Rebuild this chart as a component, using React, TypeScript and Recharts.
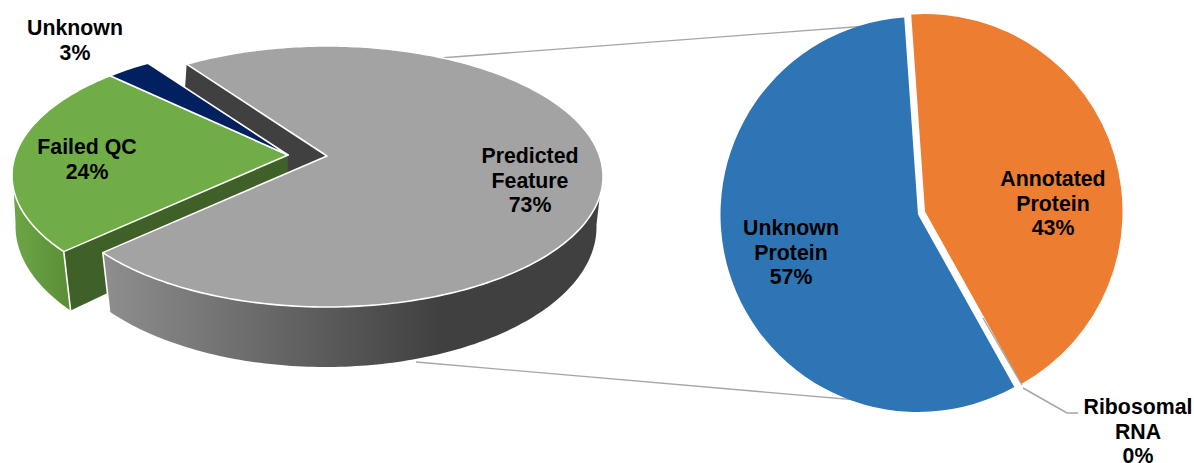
import React from 'react';
import { PieChart, Pie, Sector } from 'recharts';

// Breakdown of all features, drawn as a tilted, extruded pie.
const overviewCategories = ['Predicted Feature', 'Failed QC', 'Unknown'];
const overviewValues = [73, 24, 3];
const overviewColors = ['#a3a3a3', '#70ad47', '#002060'];

// Breakdown of the predicted features, drawn as a flat pie.
const detailCategories = ['Annotated Protein', 'Ribosomal RNA', 'Unknown Protein'];
const detailValues = [43, 0, 57];
const detailColors = ['#ed7d31', '#a6a6a6', '#2e75b6'];

const WIDTH = 1194;
const HEIGHT = 463;

const FONT = '"Liberation Sans", Arial, sans-serif';
const LABEL_SIZE = 21.3;
const LINE_STEP = 24.4;

// Perspective of the tilted pie's top face: k is the foreshortening, A and B the half axes.
const TOP = { k: 0.157, A: 272.6, B: 127.3 };
// Rim of the bottom face: an ellipse hung below the slice's apex.
const BOTTOM = { k: 0.125, a: 271, b: 140, dx: -1.5, dy: 71 };

// Sector displacement from the pie's centre, one entry per slice.
const overviewShift: Record<string, [number, number]> = {
  'Predicted Feature': [0, 0],
  'Failed QC': [-39, -1],
  Unknown: [-39, -1],
};
const detailShift: Record<string, [number, number]> = {
  'Annotated Protein': [3.5, -1.5],
  'Ribosomal RNA': [0, 0],
  'Unknown Protein': [-3.5, 1.5],
};

// Centre of each label block.
const labelCentres: Record<string, [number, number]> = {
  'Predicted Feature': [530, 180],
  'Failed QC': [87, 159],
  Unknown: [75, 40],
  'Annotated Protein': [1053, 203],
  'Ribosomal RNA': [1138, 431],
  'Unknown Protein': [791, 252],
};

const labelLines: Record<string, string[]> = {
  'Predicted Feature': ['Predicted', 'Feature'],
  'Failed QC': ['Failed QC'],
  Unknown: ['Unknown'],
  'Annotated Protein': ['Annotated', 'Protein'],
  'Ribosomal RNA': ['Ribosomal', 'RNA'],
  'Unknown Protein': ['Unknown', 'Protein'],
};

const overviewRows = overviewCategories.map((name, i) => ({
  name,
  value: overviewValues[i],
  fill: overviewColors[i],
}));
const detailRows = detailCategories.map((name, i) => ({
  name,
  value: detailValues[i],
  fill: detailColors[i],
}));

type Pt = [number, number];

// Maps a polar position on the pie's plane to the page, on the top face.
function projectTop(cx: number, cy: number, deg: number): Pt {
  const rad = (deg * Math.PI) / 180;
  const u = Math.cos(rad);
  const v = Math.sin(rad);
  const w = 1 + TOP.k * v;
  return [cx + (TOP.A * u) / w, cy - (TOP.B * v) / w];
}

// Same mapping for the bottom face; radius 0 gives the apex of the slice's underside.
function projectBottom(cx: number, cy: number, deg: number, radius = 1): Pt {
  const rad = (deg * Math.PI) / 180;
  const u = radius * Math.cos(rad);
  const v = radius * Math.sin(rad);
  const { k, a, b, dx, dy } = BOTTOM;
  const w = 1 + k * v;
  return [cx + dx + (a * u * Math.sqrt(1 - k * k)) / w, cy + dy - (b * (v + k)) / w];
}

function arcAngles(start: number, end: number): number[] {
  const steps = Math.max(2, Math.ceil(Math.abs(end - start)));
  return Array.from({ length: steps + 1 }, (_, i) => start + ((end - start) * i) / steps);
}

const toPath = (pts: Pt[]) =>
  'M' + pts.map((p) => `${p[0].toFixed(2)},${p[1].toFixed(2)}`).join('L') + 'Z';

function topFace(p: any, cx: number, cy: number) {
  const rim = arcAngles(p.startAngle, p.endAngle).map((a) => projectTop(cx, cy, a));
  return (
    <path
      d={toPath([[cx, cy], ...rim])}
      fill={p.fill}
      stroke="#ffffff"
      strokeWidth={1.6}
      strokeLinejoin="round"
    />
  );
}

function rimWall(p: any, cx: number, cy: number, fill: string) {
  const angles = arcAngles(p.startAngle, p.endAngle).filter(
    (a) => Math.sin((a * Math.PI) / 180) <= -0.1,
  );
  const upper = angles.map((a) => projectTop(cx, cy, a));
  const lower = angles.map((a) => projectBottom(cx, cy, a)).reverse();
  return <path d={toPath([...upper, ...lower])} fill={fill} />;
}

function cutWall(cx: number, cy: number, angle: number, fill: string) {
  return (
    <path
      d={toPath([
        [cx, cy],
        projectTop(cx, cy, angle),
        projectBottom(cx, cy, angle),
        projectBottom(cx, cy, angle, 0),
      ])}
      fill={fill}
    />
  );
}

function cornerEdge(cx: number, cy: number, angle: number) {
  const a = projectTop(cx, cy, angle);
  const b = projectBottom(cx, cy, angle);
  return <line x1={a[0]} y1={a[1]} x2={b[0]} y2={b[1]} stroke="#ffffff" strokeWidth={1.6} />;
}

// The exposed cut face behind the detached slices.
function backLayer(p: any) {
  if (p.name !== 'Predicted Feature') return <g />;
  return <g>{cutWall(p.cx, p.cy, p.startAngle, '#404040')}</g>;
}

// The detached slices, above the cut face and below the main slice.
function detachedLayer(p: any) {
  if (p.name === 'Predicted Feature') return <g />;
  const [dx, dy] = overviewShift[p.name];
  const cx = p.cx + dx;
  const cy = p.cy + dy;
  if (p.name === 'Unknown') return <g>{topFace(p, cx, cy)}</g>;
  return (
    <g>
      {cutWall(cx, cy, p.startAngle, '#3f6128')}
      {rimWall(p, cx, cy, 'url(#greenRim)')}
      {cornerEdge(cx, cy, p.startAngle)}
      {topFace(p, cx, cy)}
    </g>
  );
}

function mainLayer(p: any) {
  if (p.name !== 'Predicted Feature') return <g />;
  return (
    <g>
      {rimWall(p, p.cx, p.cy, 'url(#greyRim)')}
      {cornerEdge(p.cx, p.cy, p.endAngle)}
      {topFace(p, p.cx, p.cy)}
    </g>
  );
}

function detailSlice(p: any) {
  const [dx, dy] = detailShift[p.name];
  return (
    <Sector
      cx={p.cx + dx}
      cy={p.cy + dy}
      innerRadius={0}
      outerRadius={p.outerRadius}
      startAngle={p.startAngle}
      endAngle={p.endAngle}
      fill={p.fill}
      stroke="none"
    />
  );
}

function sliceLabel(p: any) {
  const lines = [...labelLines[p.name], `${p.value}%`];
  const [x, y] = labelCentres[p.name];
  const first = y - ((lines.length - 1) * LINE_STEP) / 2 + 7.5;
  return (
    <text
      key={p.name}
      x={x}
      y={first}
      textAnchor="middle"
      fontFamily={FONT}
      fontSize={LABEL_SIZE}
      fontWeight="bold"
      fill="#000000"
    >
      {lines.map((line, i) => (
        <tspan key={line} x={x} y={first + i * LINE_STEP}>
          {line}
        </tspan>
      ))}
    </text>
  );
}

function detailLabel(p: any) {
  if (p.name !== 'Ribosomal RNA') return sliceLabel(p);
  return (
    <g key={p.name}>
      <polyline points="983,318 1022,385" fill="none" stroke="#a6a6a6" strokeWidth={1.4} />
      <polyline points="1023,388 1067,413 1078,413" fill="none" stroke="#a6a6a6" strokeWidth={1.5} />
      {sliceLabel(p)}
    </g>
  );
}

export default function App() {
  return (
    <div style={{ position: 'absolute', left: 0, top: 0, width: WIDTH, height: HEIGHT, background: '#fff' }}>
      <PieChart width={WIDTH} height={HEIGHT} margin={{ top: 0, right: 0, bottom: 0, left: 0 }}>
        <defs>
          <linearGradient id="greyRim" gradientUnits="userSpaceOnUse" x1={105} y1={0} x2={440} y2={0}>
            <stop offset="0" stopColor="#8e8e8e" />
            <stop offset="1" stopColor="#404040" />
          </linearGradient>
          <linearGradient id="greenRim" gradientUnits="userSpaceOnUse" x1={14} y1={0} x2={67} y2={0}>
            <stop offset="0" stopColor="#6ca646" />
            <stop offset="1" stopColor="#5c8f38" />
          </linearGradient>
        </defs>
        {/* Connectors running from the main slice to the detail pie */}
        <line x1={440} y1={58} x2={880} y2={25} stroke="#a6a6a6" strokeWidth={1.3} />
        <line x1={416} y1={362} x2={880} y2={402} stroke="#a6a6a6" strokeWidth={1.3} />
        <Pie
          data={overviewRows}
          dataKey="value"
          nameKey="name"
          cx={327}
          cy={156}
          outerRadius={130}
          startAngle={125.5}
          endAngle={-234.5}
          isAnimationActive={false}
          shape={backLayer}
          inactiveShape={backLayer}
          activeShape={backLayer}
          label={false}
          labelLine={false}
        />
        <Pie
          data={overviewRows}
          dataKey="value"
          nameKey="name"
          cx={327}
          cy={156}
          outerRadius={130}
          startAngle={125.5}
          endAngle={-234.5}
          isAnimationActive={false}
          shape={detachedLayer}
          inactiveShape={detachedLayer}
          activeShape={detachedLayer}
          label={false}
          labelLine={false}
        />
        <Pie
          data={overviewRows}
          dataKey="value"
          nameKey="name"
          cx={327}
          cy={156}
          outerRadius={130}
          startAngle={125.5}
          endAngle={-234.5}
          isAnimationActive={false}
          shape={mainLayer}
          inactiveShape={mainLayer}
          activeShape={mainLayer}
          label={sliceLabel}
          labelLine={false}
        />
        <Pie
          data={detailRows}
          dataKey="value"
          nameKey="name"
          cx={921.5}
          cy={213}
          outerRadius={197.5}
          startAngle={94}
          endAngle={-266}
          isAnimationActive={false}
          shape={detailSlice}
          inactiveShape={detailSlice}
          activeShape={detailSlice}
          label={detailLabel}
          labelLine={false}
        />
      </PieChart>
    </div>
  );
}
